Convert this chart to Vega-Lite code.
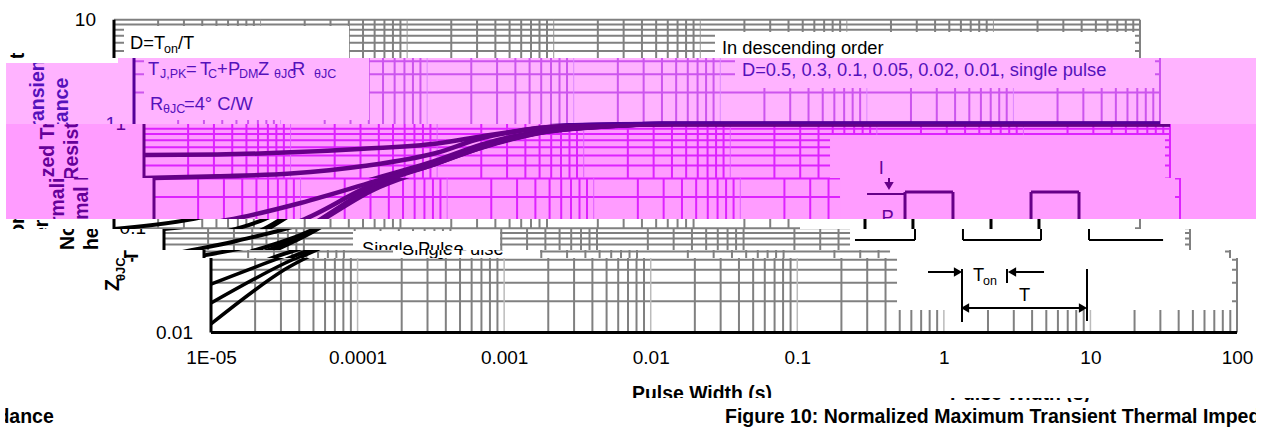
{"$schema":"https://vega.github.io/schema/vega-lite/v6.json","background":"white","padding":0,"spacing":0,"bounds":"flush","autosize":{"type":"pad"},
"config":{"view":{"stroke":null},"text":{"font":"Liberation Sans"},"axis":{"labelFont":"Liberation Sans"}},
"datasets":{
"grid":[{"x":0.00001,"x2":100,"z":10,"z2":10},{"x":0.00001,"x2":100,"z":9,"z2":9},{"x":0.00001,"x2":100,"z":8,"z2":8},{"x":0.00001,"x2":100,"z":7,"z2":7},{"x":0.00001,"x2":100,"z":6,"z2":6},{"x":0.00001,"x2":100,"z":5,"z2":5},{"x":0.00001,"x2":100,"z":4,"z2":4},{"x":0.00001,"x2":100,"z":3,"z2":3},{"x":0.00001,"x2":100,"z":2,"z2":2},{"x":0.00001,"x2":100,"z":0.9,"z2":0.9},{"x":0.00001,"x2":100,"z":0.8,"z2":0.8},{"x":0.00001,"x2":100,"z":0.7,"z2":0.7},{"x":0.00001,"x2":100,"z":0.6,"z2":0.6},{"x":0.00001,"x2":100,"z":0.5,"z2":0.5},{"x":0.00001,"x2":100,"z":0.4,"z2":0.4},{"x":0.00001,"x2":100,"z":0.3,"z2":0.3},{"x":0.00001,"x2":100,"z":0.2,"z2":0.2},{"x":0.00001,"x2":100,"z":0.1,"z2":0.1},{"x":0.00001,"x2":100,"z":0.09,"z2":0.09},{"x":0.00001,"x2":100,"z":0.08,"z2":0.08},{"x":0.00001,"x2":100,"z":0.07,"z2":0.07},{"x":0.00001,"x2":100,"z":0.06,"z2":0.06},{"x":0.00001,"x2":100,"z":0.05,"z2":0.05},{"x":0.00001,"x2":100,"z":0.04,"z2":0.04},{"x":0.00001,"x2":100,"z":0.03,"z2":0.03},{"x":0.00001,"x2":100,"z":0.02,"z2":0.02},
{"x":100,"x2":100,"z":0.01,"z2":10},
{"x":0.00002,"x2":0.00002,"z":0.01,"z2":10},{"x":0.00003,"x2":0.00003,"z":0.01,"z2":10},{"x":0.00004,"x2":0.00004,"z":0.01,"z2":10},{"x":0.00005,"x2":0.00005,"z":0.01,"z2":10},{"x":0.00006,"x2":0.00006,"z":0.01,"z2":10},{"x":0.00007,"x2":0.00007,"z":0.01,"z2":10},{"x":0.00008,"x2":0.00008,"z":0.01,"z2":10},{"x":0.00009,"x2":0.00009,"z":0.01,"z2":10},
{"x":0.0002,"x2":0.0002,"z":0.01,"z2":10},{"x":0.0003,"x2":0.0003,"z":0.01,"z2":10},{"x":0.0004,"x2":0.0004,"z":0.01,"z2":10},{"x":0.0005,"x2":0.0005,"z":0.01,"z2":10},{"x":0.0006,"x2":0.0006,"z":0.01,"z2":10},{"x":0.0007,"x2":0.0007,"z":0.01,"z2":10},{"x":0.0008,"x2":0.0008,"z":0.01,"z2":10},{"x":0.0009,"x2":0.0009,"z":0.01,"z2":10},
{"x":0.002,"x2":0.002,"z":0.01,"z2":10},{"x":0.003,"x2":0.003,"z":0.01,"z2":10},{"x":0.004,"x2":0.004,"z":0.01,"z2":10},{"x":0.005,"x2":0.005,"z":0.01,"z2":10},{"x":0.006,"x2":0.006,"z":0.01,"z2":10},{"x":0.007,"x2":0.007,"z":0.01,"z2":10},{"x":0.008,"x2":0.008,"z":0.01,"z2":10},{"x":0.009,"x2":0.009,"z":0.01,"z2":10},
{"x":0.02,"x2":0.02,"z":0.01,"z2":10},{"x":0.03,"x2":0.03,"z":0.01,"z2":10},{"x":0.04,"x2":0.04,"z":0.01,"z2":10},{"x":0.05,"x2":0.05,"z":0.01,"z2":10},{"x":0.06,"x2":0.06,"z":0.01,"z2":10},{"x":0.07,"x2":0.07,"z":0.01,"z2":10},{"x":0.08,"x2":0.08,"z":0.01,"z2":10},{"x":0.09,"x2":0.09,"z":0.01,"z2":10},
{"x":0.2,"x2":0.2,"z":0.01,"z2":10},{"x":0.3,"x2":0.3,"z":0.01,"z2":10},{"x":0.4,"x2":0.4,"z":0.01,"z2":10},{"x":0.5,"x2":0.5,"z":0.01,"z2":10},{"x":0.6,"x2":0.6,"z":0.01,"z2":10},{"x":0.7,"x2":0.7,"z":0.01,"z2":10},{"x":0.8,"x2":0.8,"z":0.01,"z2":10},{"x":0.9,"x2":0.9,"z":0.01,"z2":10},
{"x":2,"x2":2,"z":0.01,"z2":10},{"x":3,"x2":3,"z":0.01,"z2":10},{"x":4,"x2":4,"z":0.01,"z2":10},{"x":5,"x2":5,"z":0.01,"z2":10},{"x":6,"x2":6,"z":0.01,"z2":10},{"x":7,"x2":7,"z":0.01,"z2":10},{"x":8,"x2":8,"z":0.01,"z2":10},{"x":9,"x2":9,"z":0.01,"z2":10},
{"x":20,"x2":20,"z":0.01,"z2":10},{"x":30,"x2":30,"z":0.01,"z2":10},{"x":40,"x2":40,"z":0.01,"z2":10},{"x":50,"x2":50,"z":0.01,"z2":10},{"x":60,"x2":60,"z":0.01,"z2":10},{"x":70,"x2":70,"z":0.01,"z2":10},{"x":80,"x2":80,"z":0.01,"z2":10},{"x":90,"x2":90,"z":0.01,"z2":10}],
"decades":[{"x":0.0001,"x2":0.0001,"z":0.01,"z2":10},{"x":0.001,"x2":0.001,"z":0.01,"z2":10},{"x":0.01,"x2":0.01,"z":0.01,"z2":10},{"x":0.1,"x2":0.1,"z":0.01,"z2":10},{"x":1,"x2":1,"z":0.01,"z2":10},{"x":10,"x2":10,"z":0.01,"z2":10}],
"masks":[{"x":0.0000117,"x2":0.0004012,"z":1.092,"z2":8.7},{"x":0.126,"x2":92.47,"z":2.214,"z2":7.62},{"x":0.4791,"x2":92.47,"z":0.01647,"z2":0.7844},{"x":0.0001948,"x2":0.001961,"z":0.0519,"z2":0.0942}],
"axes":[{"x":0.00001,"x2":0.00001,"z":0.01,"z2":10},{"x":0.00001,"x2":100,"z":0.01,"z2":0.01}],
"curves":[
{"d":"0.5","x":0.00001,"z":0.504},{"d":"0.5","x":0.0000316,"z":0.51},{"d":"0.5","x":0.0001,"z":0.535},{"d":"0.5","x":0.000316,"z":0.58},{"d":"0.5","x":0.001,"z":0.65},{"d":"0.5","x":0.002,"z":0.76},{"d":"0.5","x":0.00316,"z":0.84},{"d":"0.5","x":0.005,"z":0.92},{"d":"0.5","x":0.01,"z":0.975},{"d":"0.5","x":0.02,"z":0.995},{"d":"0.5","x":0.04,"z":1},{"d":"0.5","x":100,"z":1},
{"d":"0.3","x":0.00001,"z":0.303},{"d":"0.3","x":0.0000316,"z":0.315},{"d":"0.3","x":0.0001,"z":0.335},{"d":"0.3","x":0.000316,"z":0.395},{"d":"0.3","x":0.001,"z":0.53},{"d":"0.3","x":0.002,"z":0.73},{"d":"0.3","x":0.00316,"z":0.83},{"d":"0.3","x":0.005,"z":0.915},{"d":"0.3","x":0.01,"z":0.965},{"d":"0.3","x":0.02,"z":0.99},{"d":"0.3","x":0.04,"z":1},{"d":"0.3","x":100,"z":1},
{"d":"0.1","x":0.00001,"z":0.0985},{"d":"0.1","x":0.0000316,"z":0.12},{"d":"0.1","x":0.0001,"z":0.175},{"d":"0.1","x":0.000316,"z":0.28},{"d":"0.1","x":0.001,"z":0.45},{"d":"0.1","x":0.002,"z":0.635},{"d":"0.1","x":0.00316,"z":0.75},{"d":"0.1","x":0.005,"z":0.85},{"d":"0.1","x":0.01,"z":0.93},{"d":"0.1","x":0.02,"z":0.98},{"d":"0.1","x":0.04,"z":0.998},{"d":"0.1","x":100,"z":1},
{"d":"0.05","x":0.00001,"z":0.055},{"d":"0.05","x":0.0000316,"z":0.076},{"d":"0.05","x":0.0001,"z":0.118},{"d":"0.05","x":0.000316,"z":0.265},{"d":"0.05","x":0.001,"z":0.43},{"d":"0.05","x":0.002,"z":0.61},{"d":"0.05","x":0.00316,"z":0.73},{"d":"0.05","x":0.005,"z":0.84},{"d":"0.05","x":0.01,"z":0.925},{"d":"0.05","x":0.02,"z":0.98},{"d":"0.05","x":0.04,"z":0.998},{"d":"0.05","x":100,"z":1},
{"d":"0.02","x":0.00001,"z":0.0292},{"d":"0.02","x":0.0000316,"z":0.054},{"d":"0.02","x":0.0001,"z":0.095},{"d":"0.02","x":0.000316,"z":0.25},{"d":"0.02","x":0.001,"z":0.425},{"d":"0.02","x":0.002,"z":0.6},{"d":"0.02","x":0.00316,"z":0.72},{"d":"0.02","x":0.005,"z":0.83},{"d":"0.02","x":0.01,"z":0.92},{"d":"0.02","x":0.02,"z":0.975},{"d":"0.02","x":0.04,"z":0.998},{"d":"0.02","x":100,"z":1},
{"d":"0.01","x":0.00001,"z":0.0192},{"d":"0.01","x":0.0000316,"z":0.046},{"d":"0.01","x":0.0001,"z":0.092},{"d":"0.01","x":0.000316,"z":0.245},{"d":"0.01","x":0.001,"z":0.42},{"d":"0.01","x":0.002,"z":0.595},{"d":"0.01","x":0.00316,"z":0.715},{"d":"0.01","x":0.005,"z":0.825},{"d":"0.01","x":0.01,"z":0.92},{"d":"0.01","x":0.02,"z":0.975},{"d":"0.01","x":0.04,"z":0.998},{"d":"0.01","x":100,"z":1},
{"d":"single","x":0.00001,"z":0.0121},{"d":"single","x":0.0000316,"z":0.04},{"d":"single","x":0.0001,"z":0.09},{"d":"single","x":0.000316,"z":0.235},{"d":"single","x":0.001,"z":0.42},{"d":"single","x":0.002,"z":0.59},{"d":"single","x":0.00316,"z":0.71},{"d":"single","x":0.005,"z":0.82},{"d":"single","x":0.01,"z":0.915},{"d":"single","x":0.02,"z":0.975},{"d":"single","x":0.04,"z":0.998},{"d":"single","x":100,"z":1}],
"pulse":[{"x":0.518,"x2":1.33,"z":0.0772,"z2":0.0772},{"x":1.33,"x2":1.33,"z":0.0772,"z2":0.2229},{"x":1.33,"x2":2.825,"z":0.2229,"z2":0.2229},{"x":2.825,"x2":2.825,"z":0.0772,"z2":0.2229},{"x":2.825,"x2":9.63,"z":0.0772,"z2":0.0772},{"x":9.63,"x2":9.63,"z":0.0772,"z2":0.2229},{"x":9.63,"x2":20.46,"z":0.2229,"z2":0.2229},{"x":20.46,"x2":20.46,"z":0.0772,"z2":0.2229},{"x":20.46,"x2":65.5,"z":0.0772,"z2":0.0772}],
"dims":[{"x":1.33,"x2":1.33,"z":0.01264,"z2":0.04072},{"x":9.478,"x2":9.478,"z":0.01292,"z2":0.04072},{"x":2.696,"x2":2.696,"z":0.02989,"z2":0.04072},{"x":0.7797,"x2":1.289,"z":0.03811,"z2":0.03811},{"x":2.918,"x2":4.824,"z":0.03811,"z2":0.03811},{"x":1.394,"x2":8.9,"z":0.01722,"z2":0.01722},{"x":0.7323,"x2":1.33,"z":0.2133,"z2":0.2133},{"x":1.034,"x2":1.034,"z":0.2544,"z2":0.3035}],
"heads":[{"x":1.249,"z":0.03811,"dir":"r"},{"x":8.9,"z":0.01722,"dir":"r"},{"x":2.918,"z":0.03811,"dir":"l"},{"x":1.394,"z":0.01722,"dir":"l"},{"x":1.034,"z":0.2544,"dir":"d"}],
"text18":[{"x":0.1406,"z":4.689,"t":"In descending order"},{"x":0.1406,"z":2.885,"t":"D=0.5, 0.3, 0.1, 0.05, 0.02, 0.01, single pulse"},{"x":0.00001286,"z":5.237,"t":"D=T"},{"x":0.00002733,"z":5.237,"t":"/T"},{"x":0.00001246,"z":2.95,"t":"T"},{"x":0.00002264,"z":2.95,"t":"="},{"x":0.0000282,"z":2.95,"t":"T"},{"x":0.00003684,"z":2.95,"t":"+"},{"x":0.00004378,"z":2.95,"t":"P"},{"x":0.00006483,"z":2.95,"t":"·"},{"x":0.00007,"z":2.95,"t":"Z"},{"x":0.0001142,"z":2.95,"t":"·"},{"x":0.0001197,"z":2.95,"t":"R"},{"x":0.00001286,"z":1.362,"t":"R"},{"x":0.00002194,"z":1.362,"t":"=4°  C/W"},{"x":0.0002244,"z":0.05546,"t":"Single Pulse"},{"x":1.03,"z":0.3316,"t":"I"},{"x":0.92,"z":0.1124,"t":"P"},{"x":1.58,"z":0.03125,"t":"T"},{"x":3.256,"z":0.02009,"t":"T"}],
"sub12":[{"x":0.00002194,"z":4.795,"t":"on"},{"x":0.00001505,"z":2.761,"t":"J,PK"},{"x":0.00003199,"z":2.761,"t":"C"},{"x":0.00005206,"z":2.761,"t":"DM"},{"x":0.00009016,"z":2.761,"t":"θJC"},{"x":0.0001691,"z":2.761,"t":"θJC"},{"x":0.00001577,"z":1.275,"t":"θJC"},{"x":1.85,"z":0.02861,"t":"on"}],
"ylabels":[{"x":0.000007537,"z":10,"t":"10"},{"x":0.000007537,"z":1,"t":"1"},{"x":0.000007537,"z":0.1,"t":"0.1"},{"x":0.000007537,"z":0.01,"t":"0.01"}],
"rot":[{"x":0.000002196,"z":0.06194,"t":"Normalized Transient"},{"x":0.000003227,"z":0.04753,"t":"Thermal Resistance"},{"x":0.000002145,"z":0.02506,"t":"Z"}],
"rotsub":[{"x":0.000002431,"z":0.03125,"t":"θJC"}],
"xtitle":[{"x":0.02238,"z":0.002259,"t":"Pulse Width (s)"}],
"caption":[{"x":0.03214,"z":0.001359,"t":"Figure 10: Normalized Maximum Transient Thermal Impedance"},{"x":0.0000000000937,"z":0.001359,"t":"Figure 10: Normalized Maximum Transient Thermal Impedance"}]
},
"vconcat":[
{"width":1262,"height":58,"encoding":{"x":{"field":"x","type":"quantitative","scale":{"type":"log","domain":[0.000001668,680],"nice":false},"axis":null},"y":{"field":"z","type":"quantitative","scale":{"type":"log","domain":[4.294,15.45],"nice":false},"axis":null}},
"layer":[
{"data":{"name":"grid"},"mark":{"type":"rule","clip":true,"color":"#808080","strokeWidth":2},"encoding":{"x2":{"field":"x2"},"y2":{"field":"z2"}}},
{"data":{"name":"decades"},"mark":{"type":"rule","clip":true,"color":"#999999","strokeWidth":1},"encoding":{"x2":{"field":"x2"},"y2":{"field":"z2"}}},
{"data":{"name":"masks"},"mark":{"type":"rect","clip":true,"color":"white"},"encoding":{"x2":{"field":"x2"},"y2":{"field":"z2"}}},
{"data":{"name":"axes"},"mark":{"type":"rule","clip":true,"color":"#000000","strokeWidth":3},"encoding":{"x2":{"field":"x2"},"y2":{"field":"z2"}}},
{"data":{"name":"text18"},"mark":{"type":"text","clip":true,"align":"left","baseline":"alphabetic","fontSize":18.3,"color":"#000000"},"encoding":{"text":{"field":"t"}}},
{"data":{"name":"sub12"},"mark":{"type":"text","clip":true,"align":"left","baseline":"alphabetic","fontSize":12.5,"color":"#000000"},"encoding":{"text":{"field":"t"}}},
{"data":{"name":"ylabels"},"mark":{"type":"text","clip":true,"align":"right","baseline":"middle","fontSize":19,"color":"#000000"},"encoding":{"text":{"field":"t"}}},
{"data":{"name":"rot"},"mark":{"type":"text","clip":true,"align":"left","baseline":"middle","angle":270,"fontSize":19.5,"fontWeight":"bold","color":"#000000"},"encoding":{"text":{"field":"t"}}}
]},
{"width":1262,"height":66,"encoding":{"x":{"field":"x","type":"quantitative","scale":{"type":"log","domain":[0.000001218,496.6],"nice":false},"axis":null},"y":{"field":"z","type":"quantitative","scale":{"type":"log","domain":[1,4.294],"nice":false},"axis":null}},
"layer":[
{"data":{"values":[{"x":0.000001339,"x2":451.9,"z":1,"z2":4.294}]},"mark":{"type":"rect","clip":true,"color":"#FFB3FF"},"encoding":{"x2":{"field":"x2"},"y2":{"field":"z2"}}},
{"data":{"name":"grid"},"mark":{"type":"rule","clip":true,"color":"#CC55EE","strokeWidth":2},"encoding":{"x2":{"field":"x2"},"y2":{"field":"z2"}}},
{"data":{"name":"decades"},"mark":{"type":"rule","clip":true,"color":"#DD88FF","strokeWidth":1},"encoding":{"x2":{"field":"x2"},"y2":{"field":"z2"}}},
{"data":{"name":"masks"},"mark":{"type":"rect","clip":true,"color":"#FFB3FF"},"encoding":{"x2":{"field":"x2"},"y2":{"field":"z2"}}},
{"data":{"name":"axes"},"mark":{"type":"rule","clip":true,"color":"#550099","strokeWidth":3},"encoding":{"x2":{"field":"x2"},"y2":{"field":"z2"}}},
{"data":{"name":"curves"},"mark":{"type":"line","clip":true,"color":"#550099","strokeWidth":4.5,"interpolate":"monotone"},"encoding":{"detail":{"field":"d"}}},
{"data":{"name":"text18"},"mark":{"type":"text","clip":true,"align":"left","baseline":"alphabetic","fontSize":18.3,"color":"#5511BB"},"encoding":{"text":{"field":"t"}}},
{"data":{"name":"sub12"},"mark":{"type":"text","clip":true,"align":"left","baseline":"alphabetic","fontSize":12.5,"color":"#5511BB"},"encoding":{"text":{"field":"t"}}},
{"data":{"name":"ylabels"},"mark":{"type":"text","clip":true,"align":"right","baseline":"middle","fontSize":19,"color":"#5511BB"},"encoding":{"text":{"field":"t"}}},
{"data":{"name":"rot"},"mark":{"type":"text","clip":true,"align":"left","baseline":"middle","angle":270,"fontSize":19.5,"fontWeight":"bold","color":"#5511BB"},"encoding":{"text":{"field":"t"}}},
{"data":{"values":[{"x":0.000001218,"x2":0.000007777,"z":3.845,"z2":4.294}]},"mark":{"type":"rect","clip":true,"color":"white"},"encoding":{"x2":{"field":"x2"},"y2":{"field":"z2"}}}
]},
{"width":1262,"height":54,"encoding":{"x":{"field":"x","type":"quantitative","scale":{"type":"log","domain":[0.0000010412,424.4],"nice":false},"axis":null},"y":{"field":"z","type":"quantitative","scale":{"type":"log","domain":[0.3035,1],"nice":false},"axis":null}},
"layer":[
{"data":{"values":[{"x":0.0000011445,"x2":386.2,"z":0.3035,"z2":1}]},"mark":{"type":"rect","clip":true,"color":"#FF9CFF"},"encoding":{"x2":{"field":"x2"},"y2":{"field":"z2"}}},
{"data":{"name":"grid"},"mark":{"type":"rule","clip":true,"color":"#DD22FF","strokeWidth":2},"encoding":{"x2":{"field":"x2"},"y2":{"field":"z2"}}},
{"data":{"name":"decades"},"mark":{"type":"rule","clip":true,"color":"#E060FF","strokeWidth":1},"encoding":{"x2":{"field":"x2"},"y2":{"field":"z2"}}},
{"data":{"name":"masks"},"mark":{"type":"rect","clip":true,"color":"#FF9CFF"},"encoding":{"x2":{"field":"x2"},"y2":{"field":"z2"}}},
{"data":{"name":"axes"},"mark":{"type":"rule","clip":true,"color":"#660088","strokeWidth":3},"encoding":{"x2":{"field":"x2"},"y2":{"field":"z2"}}},
{"data":{"name":"curves"},"mark":{"type":"line","clip":true,"color":"#660088","strokeWidth":4.5,"interpolate":"monotone"},"encoding":{"detail":{"field":"d"}}},
{"data":{"name":"text18"},"mark":{"type":"text","clip":true,"align":"left","baseline":"alphabetic","fontSize":18.3,"color":"#660099"},"encoding":{"text":{"field":"t"}}},
{"data":{"name":"ylabels"},"mark":{"type":"text","clip":true,"align":"right","baseline":"middle","fontSize":19,"color":"#660099"},"encoding":{"text":{"field":"t"}}},
{"data":{"name":"rot"},"mark":{"type":"text","clip":true,"align":"left","baseline":"middle","angle":270,"fontSize":19.5,"fontWeight":"bold","color":"#660099"},"encoding":{"text":{"field":"t"}}}
]},
{"width":1262,"height":41,"encoding":{"x":{"field":"x","type":"quantitative","scale":{"type":"log","domain":[0.0000008898,362.6],"nice":false},"axis":null},"y":{"field":"z","type":"quantitative","scale":{"type":"log","domain":[0.1229,0.3035],"nice":false},"axis":null}},
"layer":[
{"data":{"values":[{"x":0.0000009778,"x2":330,"z":0.1229,"z2":0.3035}]},"mark":{"type":"rect","clip":true,"color":"#FF9CFF"},"encoding":{"x2":{"field":"x2"},"y2":{"field":"z2"}}},
{"data":{"name":"grid"},"mark":{"type":"rule","clip":true,"color":"#DD22FF","strokeWidth":2},"encoding":{"x2":{"field":"x2"},"y2":{"field":"z2"}}},
{"data":{"name":"decades"},"mark":{"type":"rule","clip":true,"color":"#E060FF","strokeWidth":1},"encoding":{"x2":{"field":"x2"},"y2":{"field":"z2"}}},
{"data":{"name":"masks"},"mark":{"type":"rect","clip":true,"color":"#FF9CFF"},"encoding":{"x2":{"field":"x2"},"y2":{"field":"z2"}}},
{"data":{"name":"axes"},"mark":{"type":"rule","clip":true,"color":"#660088","strokeWidth":3},"encoding":{"x2":{"field":"x2"},"y2":{"field":"z2"}}},
{"data":{"name":"curves"},"mark":{"type":"line","clip":true,"color":"#660088","strokeWidth":4.5,"interpolate":"monotone"},"encoding":{"detail":{"field":"d"}}},
{"data":{"name":"pulse"},"mark":{"type":"rule","clip":true,"color":"#660088","strokeWidth":3},"encoding":{"x2":{"field":"x2"},"y2":{"field":"z2"}}},
{"data":{"name":"dims"},"mark":{"type":"rule","clip":true,"color":"#660088","strokeWidth":2},"encoding":{"x2":{"field":"x2"},"y2":{"field":"z2"}}},
{"data":{"name":"heads"},"mark":{"type":"point","clip":true,"filled":true,"opacity":1,"size":90,"color":"#660088"},"encoding":{"shape":{"field":"dir","scale":{"domain":["r","l","d"],"range":["triangle-right","triangle-left","triangle-down"]},"legend":null}}},
{"data":{"name":"text18"},"mark":{"type":"text","clip":true,"align":"left","baseline":"alphabetic","fontSize":18.3,"color":"#660099"},"encoding":{"text":{"field":"t"}}},
{"data":{"name":"rot"},"mark":{"type":"text","clip":true,"align":"left","baseline":"middle","angle":270,"fontSize":19.5,"fontWeight":"bold","color":"#660099"},"encoding":{"text":{"field":"t"}}}
]},
{"width":1262,"height":10,"encoding":{"x":{"field":"x","type":"quantitative","scale":{"type":"log","domain":[0.000001668,680],"nice":false},"axis":null},"y":{"field":"z","type":"quantitative","scale":{"type":"log","domain":[0.09847,0.1229],"nice":false},"axis":null}},
"layer":[
{"data":{"name":"grid"},"mark":{"type":"rule","clip":true,"color":"#808080","strokeWidth":2},"encoding":{"x2":{"field":"x2"},"y2":{"field":"z2"}}},
{"data":{"name":"masks"},"mark":{"type":"rect","clip":true,"color":"white"},"encoding":{"x2":{"field":"x2"},"y2":{"field":"z2"}}},
{"data":{"name":"axes"},"mark":{"type":"rule","clip":true,"color":"#000000","strokeWidth":3},"encoding":{"x2":{"field":"x2"},"y2":{"field":"z2"}}},
{"data":{"name":"curves"},"mark":{"type":"line","clip":true,"color":"#000000","strokeWidth":4,"interpolate":"monotone"},"encoding":{"detail":{"field":"d"}}},
{"data":{"name":"pulse"},"mark":{"type":"rule","clip":true,"color":"#000000","strokeWidth":3},"encoding":{"x2":{"field":"x2"},"y2":{"field":"z2"}}},
{"data":{"name":"rot"},"mark":{"type":"text","clip":true,"align":"left","baseline":"middle","angle":270,"fontSize":19.5,"fontWeight":"bold","color":"#000000"},"encoding":{"text":{"field":"t"}}}
]},
{"width":1262,"height":21,"encoding":{"x":{"field":"x","type":"quantitative","scale":{"type":"log","domain":[0.0000007605,309.9],"nice":false},"axis":null},"y":{"field":"z","type":"quantitative","scale":{"type":"log","domain":[0.06194,0.09847],"nice":false},"axis":null}},
"layer":[
{"data":{"name":"grid"},"mark":{"type":"rule","clip":true,"color":"#808080","strokeWidth":2},"encoding":{"x2":{"field":"x2"},"y2":{"field":"z2"}}},
{"data":{"name":"masks"},"mark":{"type":"rect","clip":true,"color":"white"},"encoding":{"x2":{"field":"x2"},"y2":{"field":"z2"}}},
{"data":{"name":"axes"},"mark":{"type":"rule","clip":true,"color":"#000000","strokeWidth":3},"encoding":{"x2":{"field":"x2"},"y2":{"field":"z2"}}},
{"data":{"name":"curves"},"mark":{"type":"line","clip":true,"color":"#000000","strokeWidth":4,"interpolate":"monotone"},"encoding":{"detail":{"field":"d"}}},
{"data":{"name":"pulse"},"mark":{"type":"rule","clip":true,"color":"#000000","strokeWidth":2},"encoding":{"x2":{"field":"x2"},"y2":{"field":"z2"}}},
{"data":{"name":"text18"},"mark":{"type":"text","clip":true,"align":"left","baseline":"alphabetic","fontSize":18.3,"color":"#000000"},"encoding":{"text":{"field":"t"}}},
{"data":{"name":"ylabels"},"mark":{"type":"text","clip":true,"align":"right","baseline":"middle","fontSize":19,"color":"#000000"},"encoding":{"text":{"field":"t"}}},
{"data":{"name":"rot"},"mark":{"type":"text","clip":true,"align":"left","baseline":"middle","angle":270,"fontSize":19.5,"fontWeight":"bold","color":"#000000"},"encoding":{"text":{"field":"t"}}}
]},
{"width":1262,"height":8,"encoding":{"x":{"field":"x","type":"quantitative","scale":{"type":"log","domain":[0.0000004056,165.3],"nice":false},"axis":null},"y":{"field":"z","type":"quantitative","scale":{"type":"log","domain":[0.05192,0.06194],"nice":false},"axis":null}},
"layer":[
{"data":{"name":"grid"},"mark":{"type":"rule","clip":true,"color":"#808080","strokeWidth":2},"encoding":{"x2":{"field":"x2"},"y2":{"field":"z2"}}},
{"data":{"name":"masks"},"mark":{"type":"rect","clip":true,"color":"white"},"encoding":{"x2":{"field":"x2"},"y2":{"field":"z2"}}},
{"data":{"name":"axes"},"mark":{"type":"rule","clip":true,"color":"#000000","strokeWidth":3},"encoding":{"x2":{"field":"x2"},"y2":{"field":"z2"}}},
{"data":{"name":"curves"},"mark":{"type":"line","clip":true,"color":"#000000","strokeWidth":4,"interpolate":"monotone"},"encoding":{"detail":{"field":"d"}}},
{"data":{"name":"text18"},"mark":{"type":"text","clip":true,"align":"left","baseline":"alphabetic","fontSize":18.3,"color":"#000000"},"encoding":{"text":{"field":"t"}}},
{"data":{"name":"rot"},"mark":{"type":"text","clip":true,"align":"left","baseline":"middle","angle":270,"fontSize":19.5,"fontWeight":"bold","color":"#000000"},"encoding":{"text":{"field":"t"}}}
]},
{"width":1262,"height":140,"encoding":{"x":{"field":"x","type":"quantitative","scale":{"type":"log","domain":[0.0000003634,148.1],"nice":false},"axis":{"orient":"bottom","offset":-66,"values":[0.00001,0.0001,0.001,0.01,0.1,1,10,100],"labelExpr":"datum.value < 0.00005 ? '1E-05' : format(datum.value,'~g')","domain":false,"ticks":false,"grid":false,"title":null,"labelFontSize":19,"labelColor":"#000000","labelPadding":16,"labelFlush":false,"labelOverlap":false}},"y":{"field":"z","type":"quantitative","scale":{"type":"log","domain":[0.00236,0.05192],"nice":false},"axis":null}},
"layer":[
{"data":{"name":"grid"},"mark":{"type":"rule","clip":true,"color":"#808080","strokeWidth":2},"encoding":{"x2":{"field":"x2"},"y2":{"field":"z2"}}},
{"data":{"name":"decades"},"mark":{"type":"rule","clip":true,"color":"#BBBBBB","strokeWidth":1.5},"encoding":{"x2":{"field":"x2"},"y2":{"field":"z2"}}},
{"data":{"name":"masks"},"mark":{"type":"rect","clip":true,"color":"white"},"encoding":{"x2":{"field":"x2"},"y2":{"field":"z2"}}},
{"data":{"name":"axes"},"mark":{"type":"rule","clip":true,"color":"#000000","strokeWidth":3},"encoding":{"x2":{"field":"x2"},"y2":{"field":"z2"}}},
{"data":{"name":"curves"},"mark":{"type":"line","clip":true,"color":"#000000","strokeWidth":3.5,"interpolate":"monotone"},"encoding":{"detail":{"field":"d"}}},
{"data":{"name":"dims"},"mark":{"type":"rule","clip":true,"color":"#000000","strokeWidth":2},"encoding":{"x2":{"field":"x2"},"y2":{"field":"z2"}}},
{"data":{"name":"heads"},"mark":{"type":"point","clip":true,"filled":true,"opacity":1,"size":90,"color":"#000000"},"encoding":{"shape":{"field":"dir","scale":{"domain":["r","l","d"],"range":["triangle-right","triangle-left","triangle-down"]},"legend":null}}},
{"data":{"name":"text18"},"mark":{"type":"text","clip":true,"align":"left","baseline":"alphabetic","fontSize":18.3,"color":"#000000"},"encoding":{"text":{"field":"t"}}},
{"data":{"name":"sub12"},"mark":{"type":"text","clip":true,"align":"left","baseline":"alphabetic","fontSize":12.5,"color":"#000000"},"encoding":{"text":{"field":"t"}}},
{"data":{"name":"ylabels"},"mark":{"type":"text","clip":true,"align":"right","baseline":"middle","fontSize":19,"color":"#000000"},"encoding":{"text":{"field":"t"}}},
{"data":{"name":"rot"},"mark":{"type":"text","clip":true,"align":"left","baseline":"middle","angle":270,"fontSize":19.5,"fontWeight":"bold","color":"#000000"},"encoding":{"text":{"field":"t"}}},
{"data":{"name":"rotsub"},"mark":{"type":"text","clip":true,"align":"left","baseline":"middle","angle":270,"fontSize":13,"fontWeight":"bold","color":"#000000"},"encoding":{"text":{"field":"t"}}},
{"data":{"name":"xtitle"},"mark":{"type":"text","clip":true,"align":"center","baseline":"alphabetic","fontSize":19.4,"fontWeight":"bold","color":"#000000"},"encoding":{"text":{"field":"t"}}}
]},
{"width":1262,"height":4,"encoding":{"x":{"field":"x","type":"quantitative","scale":{"type":"log","domain":[0.000000002458,1.0023],"nice":false},"axis":null},"y":{"field":"z","type":"quantitative","scale":{"type":"log","domain":[0.002161,0.00236],"nice":false},"axis":null}},
"layer":[
{"data":{"name":"xtitle"},"mark":{"type":"text","clip":true,"align":"center","baseline":"alphabetic","fontSize":19.4,"fontWeight":"bold","color":"#000000"},"encoding":{"text":{"field":"t"}}}
]},
{"width":1262,"height":30,"encoding":{"x":{"field":"x","type":"quantitative","scale":{"type":"log","domain":[0.0000003634,148.1],"nice":false},"axis":null},"y":{"field":"z","type":"quantitative","scale":{"type":"log","domain":[0.001114,0.002161],"nice":false},"axis":null}},
"layer":[
{"data":{"name":"caption"},"mark":{"type":"text","clip":true,"align":"left","baseline":"alphabetic","fontSize":19.5,"fontWeight":"bold","color":"#000000"},"encoding":{"text":{"field":"t"}}},
{"data":{"values":[{"x":0.0000003634,"x2":0.0000003932,"z":0.001114,"z2":0.002161},{"x":134.8,"x2":148.1,"z":0.001114,"z2":0.002161}]},"mark":{"type":"rect","clip":true,"color":"white"},"encoding":{"x2":{"field":"x2"},"y2":{"field":"z2"}}}
]}
]}
